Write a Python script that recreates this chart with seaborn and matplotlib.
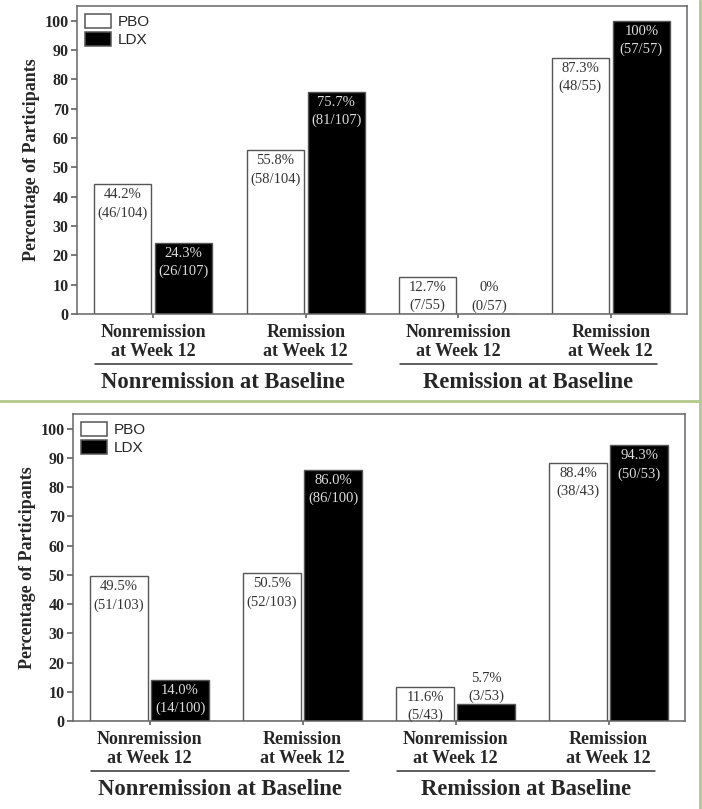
import numpy as np
import pandas as pd
import seaborn as sns
import matplotlib.pyplot as plt
from matplotlib.lines import Line2D
from matplotlib.patches import Patch

sns.set_style('ticks')
plt.rcParams['font.family'] = ['Liberation Serif', 'DejaVu Serif']

# data
cells = ['NR_NR', 'NR_R', 'R_NR', 'R_R']
outcomes = ['Nonremission\nat Week 12', 'Remission\nat Week 12',
            'Nonremission\nat Week 12', 'Remission\nat Week 12']
baselines = ['Nonremission at Baseline', 'Remission at Baseline']
arms = ['PBO', 'LDX']

top_pbo = [44.2, 55.8, 12.7, 87.3]
top_ldx = [24.3, 75.7, 0.0, 100.0]
top_pbo_n = ['46/104', '58/104', '7/55', '48/55']
top_ldx_n = ['26/107', '81/107', '0/57', '57/57']

bot_pbo = [49.5, 50.5, 11.6, 88.4]
bot_ldx = [14.0, 86.0, 5.7, 94.3]
bot_pbo_n = ['51/103', '52/103', '5/43', '38/43']
bot_ldx_n = ['14/100', '86/100', '3/53', '50/53']

EDGE = '#555555'


def draw_panel(ax, pbo, ldx, pbo_n, ldx_n, fmt):
    df = pd.DataFrame({
        'cell': cells * 2,
        'arm': ['PBO'] * 4 + ['LDX'] * 4,
        'pct': pbo + ldx,
    })
    sns.barplot(data=df, x='cell', y='pct', hue='arm', order=cells, hue_order=arms,
                palette={'PBO': 'white', 'LDX': 'black'}, edgecolor=EDGE, linewidth=1.0,
                width=0.8, gap=0.06, saturation=1, errorbar=None, legend=False, ax=ax)

    # value labels
    for cont, vals, ns, col in zip(ax.containers, [pbo, ldx], [pbo_n, ldx_n], ['#333333', '#dddddd']):
        for bar, v, n in zip(cont, vals, ns):
            x = bar.get_x() + bar.get_width() / 2
            txt = fmt.format(v) + '\n(' + n + ')'
            if v < 10:
                ax.annotate(txt, (x, v), xytext=(0, 1), textcoords='offset points',
                            ha='center', va='bottom', color='#333333', fontsize=10.5, linespacing=1.45)
            else:
                ax.annotate(txt, (x, v), xytext=(0, -3), textcoords='offset points',
                            ha='center', va='top', color=col, fontsize=10.5, linespacing=1.45)

    ax.set_xlim(-0.5, 3.5)
    ax.set_ylim(0, 105)
    ax.set_yticks(range(0, 101, 10))
    ax.set_xticks(range(4))
    ax.set_xticklabels(outcomes, fontweight='bold', fontsize=13)
    ax.tick_params(axis='y', labelsize=11.5, length=4, width=1.1, color=EDGE, pad=2)
    ax.tick_params(axis='x', length=3, width=1.1, color=EDGE, pad=4)
    for t in ax.get_yticklabels():
        t.set_fontweight('bold')
    for s in ax.spines.values():
        s.set_visible(True)
        s.set_color('#666666')
        s.set_linewidth(1.1)
    ax.set_xlabel('')
    ax.set_ylabel('Percentage of Participants', fontweight='bold', fontsize=13, labelpad=3)

    # baseline group labels with rule above
    tr = ax.get_xaxis_transform()
    for i, name in enumerate(baselines):
        c = 2 * i + 0.5 - 0.04
        ax.plot([c - 0.845, c + 0.845], [-0.163, -0.163], transform=tr, color='#333333',
                lw=1.1, clip_on=False)
        ax.text(c, -0.222, name, transform=tr, ha='center', va='center',
                fontweight='bold', fontsize=16.3)

    handles = [Patch(facecolor='white', edgecolor=EDGE, linewidth=1.1, label='PBO'),
               Patch(facecolor='black', edgecolor=EDGE, linewidth=1.1, label='LDX')]
    ax.legend(handles=handles, loc='upper left', frameon=False, borderaxespad=0.1,
              borderpad=0.4, handlelength=1.75, handleheight=1.05, handletextpad=0.4,
              labelspacing=0.2, prop={'family': 'Liberation Sans', 'size': 11})


fig = plt.figure(figsize=(7.02, 8.09), dpi=100)
ax1 = fig.add_axes([0.1097, 0.6119, 0.869, 0.3807])
ax2 = fig.add_axes([0.104, 0.1088, 0.872, 0.3795])

draw_panel(ax1, top_pbo, top_ldx, top_pbo_n, top_ldx_n, '{:g}%')
draw_panel(ax2, bot_pbo, bot_ldx, bot_pbo_n, bot_ldx_n, '{:.1f}%')

# green frame lines between/around panels
fig.add_artist(Line2D([0, 0.997], [0.5043, 0.5043], transform=fig.transFigure,
                      color='#b3c98c', lw=2))
fig.add_artist(Line2D([0.997, 0.997], [0, 1], transform=fig.transFigure,
                      color='#b3c98c', lw=2))

fig.savefig('out.png', dpi=100)
